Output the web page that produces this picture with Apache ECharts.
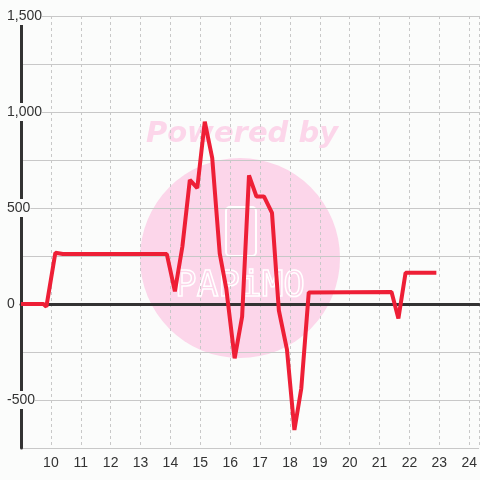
<!DOCTYPE html>
<html>
<head>
<meta charset="utf-8">
<script src="https://cdn.jsdelivr.net/npm/echarts@6/dist/echarts.min.js"></script>
<style>
  html, body { margin: 0; padding: 0; background: #fbfcfb; }
  #chart { width: 480px; height: 480px; }
</style>
</head>
<body>
<div id="chart"></div>
<script>
// hour of day (x) and value (y)
const hours = [9.0, 9.75, 9.85, 10.15, 10.4, 13.88, 14.15, 14.4, 14.65, 14.9, 15.15, 15.4, 15.65, 15.87, 16.15,
  16.4, 16.63, 16.88, 17.13, 17.4, 17.63, 17.9, 18.15, 18.38, 18.63, 21.4, 21.63, 21.87, 22.9]
const values = [0, 0, -14, 267, 260, 260, 66, 298, 646, 604, 950, 760, 264, 80, -283,
  -66, 670, 560, 560, 474, -34, -236, -656, -440, 60, 62, -75, 163, 163]
const yLabels = [-500, 0, 500, 1000, 1500]

const chart = echarts.init(document.getElementById('chart'))

const points = hours.map((h, i) => [h, values[i]])

const yBase = {
  type: 'value',
  min: -750,
  max: 1500,
  interval: 250,
  position: 'left',
  axisTick: { show: false }
}

chart.setOption({
  backgroundColor: '#fbfcfb',
  animation: false,
  grid: {
    left: 21,
    right: 0,
    top: 16,
    bottom: 32
  },
  graphic: [
    { type: 'circle', z: -10, shape: { cx: 240, cy: 258, r: 100 }, style: { fill: '#fcd6ea' } },
    {
      type: 'text', z: -10, x: 242, y: 134,
      style: {
        text: 'Powered by', fill: '#fcd6ea', align: 'center', verticalAlign: 'middle',
        font: 'italic bold 29px "DejaVu Sans"'
      }
    },
    {
      type: 'rect', z: -9, shape: { x: 226, y: 207, width: 30, height: 49, r: 4 },
      style: { fill: 'none', stroke: '#ffffff', lineWidth: 2 }
    },
    {
      type: 'text', z: -9, x: 240, y: 287,
      style: {
        text: 'PAPiMO', fill: 'none', stroke: '#ffffff', lineWidth: 1.5,
        align: 'center', verticalAlign: 'middle',
        font: '36px "DejaVu Sans Mono"'
      }
    }
  ],
  xAxis: [{
    type: 'value',
    min: 9,
    max: 24.33,
    interval: 1,
    position: 'bottom',
    axisLine: { show: false, onZero: false },
    axisTick: { show: false },
    axisLabel: {
      color: '#333',
      fontSize: 14,
      margin: 8,
      showMinLabel: false,
      showMaxLabel: false
    },
    splitLine: {
      show: true,
      lineStyle: { color: '#c8c8c8', type: [3, 3], width: 1 }
    }
  }, {
    // dark zero line
    type: 'value',
    min: 9,
    max: 24.33,
    axisLine: { show: true, onZero: true, lineStyle: { color: '#333', width: 3 } },
    axisTick: { show: false },
    axisLabel: { show: false },
    splitLine: { show: false }
  }],
  yAxis: [Object.assign({}, yBase, {
    z: 0,
    axisLine: { show: true, onZero: false, lineStyle: { color: '#333', width: 3 } },
    axisLabel: { show: false },
    splitLine: { show: true, lineStyle: { color: '#c8c8c8', width: 1 } }
  }), Object.assign({}, yBase, {
    z: 3,
    axisLine: { show: false, onZero: false },
    splitLine: { show: false },
    axisLabel: {
      color: '#333',
      fontSize: 14,
      align: 'left',
      margin: 14,
      backgroundColor: '#fbfcfb',
      padding: [2, 0, 2, 0],
      formatter: v => yLabels.includes(v) ? v.toLocaleString('en-US') : ''
    }
  })],
  series: [{
    type: 'line',
    xAxisIndex: 0,
    yAxisIndex: 0,
    data: points,
    symbol: 'none',
    clip: false,
    z: 5,
    lineStyle: { color: '#ee1f36', width: 4 }
  }]
})
</script>
</body>
</html>
